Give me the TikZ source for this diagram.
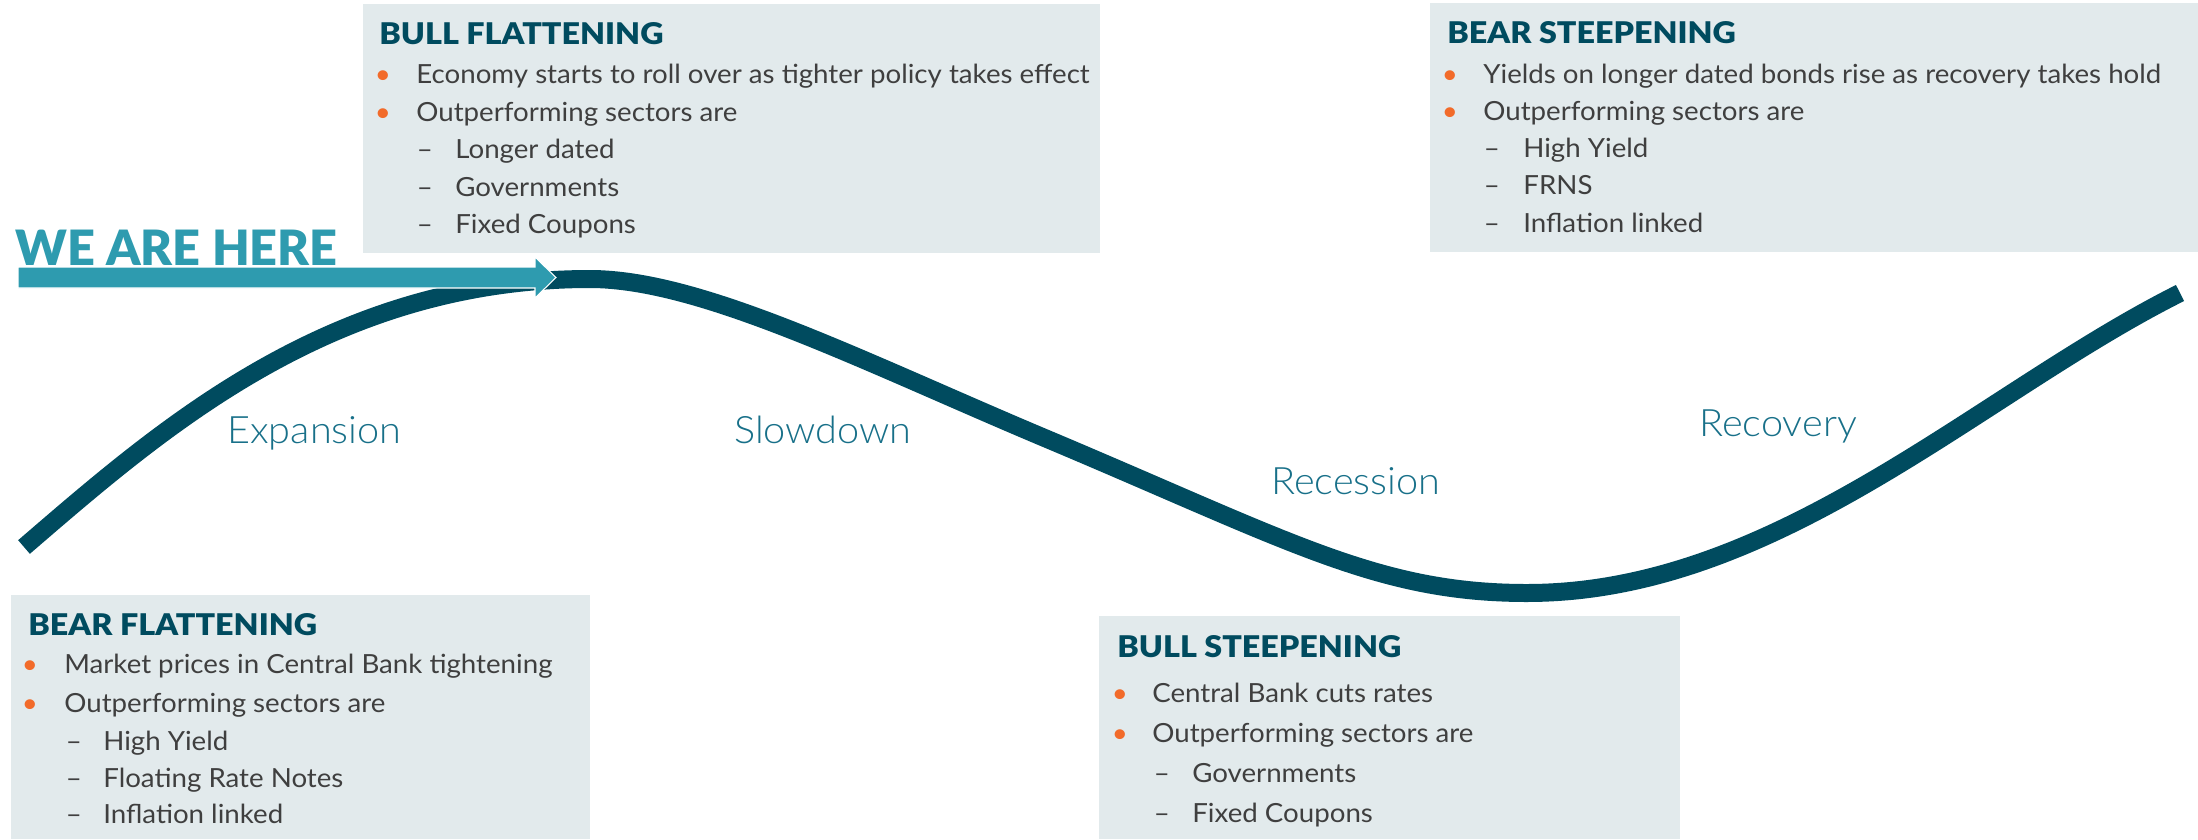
\documentclass[tikz,border=0pt]{standalone}
\usepackage{fontspec}
\setmainfont{Lato}
\newfontfamily\bodyfont{Lato}[FakeStretch=1.05]
\newfontfamily\headfont{Lato Black}[FakeStretch=1.08]
\newfontfamily\heavyfont{Lato Black}
\newfontfamily\lightfont{Lato Light}[FakeStretch=1.05]

\definecolor{curveteal}{HTML}{004B5F}
\definecolor{hereteal}{HTML}{2E9BAF}
\definecolor{phaseteal}{HTML}{187089}
\definecolor{panelgray}{HTML}{E2EAEC}
\definecolor{bodygray}{HTML}{3F3F3F}
\definecolor{dotorange}{HTML}{F26B2A}

\begin{document}
\begin{tikzpicture}[x=0.02cm,y=-0.02cm,
  panel/.style={fill=panelgray},
  heading/.style={anchor=base west,inner sep=0pt,text=curveteal,
    font=\headfont\fontsize{17}{20}\selectfont},
  item/.style={anchor=base west,inner sep=0pt,text=bodygray,
    font=\bodyfont\fontsize{15}{18}\selectfont},
  dot/.style={item,anchor=base,text=dotorange},
  dash line/.style={item,anchor=base},
  phase/.style={anchor=base west,inner sep=0pt,text=phaseteal,
    font=\lightfont\fontsize{21.5}{24}\selectfont}]
  \useasboundingbox (0,0) rectangle (2198,839);

  % grey panels
  \fill[panel] (363,4) rectangle (1100,253);
  \fill[panel] (1430,3) rectangle (2198,252);
  \fill[panel] (11,595) rectangle (590,839);
  \fill[panel] (1099,616) rectangle (1680,839);

  % the cycle
  \draw[curveteal,line width=0.36cm]
    (24,547) .. controls (160,430) and (330,279) .. (590,279)
    .. controls (700,279) and (860,360) .. (1040,436)
    .. controls (1290,541) and (1377,593) .. (1527,593)
    .. controls (1777,593) and (1980,393) .. (2180,293);

  % where we are
  \fill[hereteal,draw=white,line width=0.6pt]
    (18,267) -- (535,267) -- (535,257) -- (556,277.5)
    -- (535,298) -- (535,288) -- (18,288) -- cycle;
  \node[anchor=base west,inner sep=0pt,text=hereteal,
    font=\heavyfont\fontsize{27.7}{30}\selectfont] (here) at (15,265) {WE ARE HERE};

  % phases
  \node[phase] (exp) at (227,443) {Expansion};
  \node[phase] (slow) at (734,443) {Slowdown};
  \node[phase] (rec) at (1271,494) {Recession};
  \node[phase] (recov) at (1699,436) {Recovery};

  % bull flattening
  \node[heading] (bf) at (379,44) {BULL FLATTENING};
  \node[dot] (bf1d) at (383,83) {•};
  \node[item] (bf1) at (416,83) {Economy starts to roll over as tighter policy takes effect};
  \node[dot] (bf2d) at (383,121) {•};
  \node[item] (bf2) at (416,121) {Outperforming sectors are};
  \node[dash line] (bf3d) at (425,158) {–};
  \node[item] (bf3) at (455,158) {Longer dated};
  \node[dash line] (bf4d) at (425,196) {–};
  \node[item] (bf4) at (455,196) {Governments};
  \node[dash line] (bf5d) at (425,233) {–};
  \node[item] (bf5) at (455,233) {Fixed Coupons};

  % bear steepening
  \node[heading] (bs) at (1447,43) {BEAR STEEPENING};
  \node[dot] (bs1d) at (1450,83) {•};
  \node[item] (bs1) at (1483,83) {Yields on longer dated bonds rise as recovery takes hold};
  \node[dot] (bs2d) at (1450,120) {•};
  \node[item] (bs2) at (1483,120) {Outperforming sectors are};
  \node[dash line] (bs3d) at (1492,157) {–};
  \node[item] (bs3) at (1523,157) {High Yield};
  \node[dash line] (bs4d) at (1492,194) {–};
  \node[item] (bs4) at (1523,194) {FRNS};
  \node[dash line] (bs5d) at (1492,232) {–};
  \node[item] (bs5) at (1523,232) {Inflation linked};

  % bear flattening
  \node[heading] (brf) at (28,635) {BEAR FLATTENING};
  \node[dot] (brf1d) at (30,673) {•};
  \node[item] (brf1) at (64,673) {Market prices in Central Bank tightening};
  \node[dot] (brf2d) at (30,712) {•};
  \node[item] (brf2) at (64,712) {Outperforming sectors are};
  \node[dash line] (brf3d) at (74,750) {–};
  \node[item] (brf3) at (103,750) {High Yield};
  \node[dash line] (brf4d) at (74,787) {–};
  \node[item] (brf4) at (103,787) {Floating Rate Notes};
  \node[dash line] (brf5d) at (74,823) {–};
  \node[item] (brf5) at (103,823) {Inflation linked};

  % bull steepening
  \node[heading] (bls) at (1117,657) {BULL STEEPENING};
  \node[dot] (bls1d) at (1120,702) {•};
  \node[item] (bls1) at (1152,702) {Central Bank cuts rates};
  \node[dot] (bls2d) at (1120,742) {•};
  \node[item] (bls2) at (1152,742) {Outperforming sectors are};
  \node[dash line] (bls3d) at (1162,782) {–};
  \node[item] (bls3) at (1192,782) {Governments};
  \node[dash line] (bls4d) at (1162,822) {–};
  \node[item] (bls4) at (1192,822) {Fixed Coupons};
\end{tikzpicture}
\end{document}
